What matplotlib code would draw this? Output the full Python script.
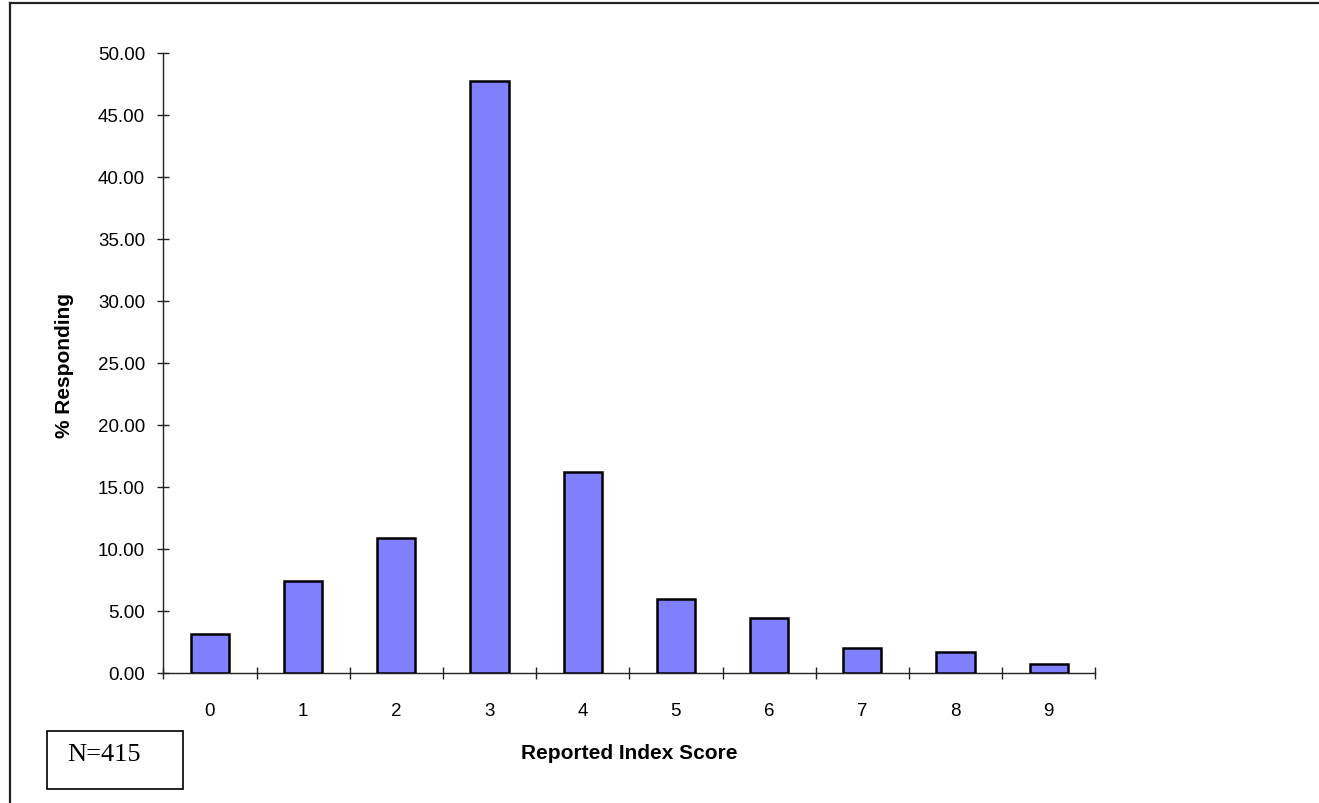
import matplotlib
matplotlib.use("Agg")
import matplotlib.pyplot as plt
from matplotlib.patches import Rectangle
from matplotlib.lines import Line2D
import numpy as np

# Survey results: share of respondents at each reported index score
scores = ["0", "1", "2", "3", "4", "5", "6", "7", "8", "9"]
pct_responding = [3.10, 7.42, 10.84, 47.74, 16.16, 5.97, 4.39, 1.97, 1.65, 0.68]
y_ticks = [0, 5, 10, 15, 20, 25, 30, 35, 40, 45, 50]
sample_note = "N=415"

W, H = 1319, 804
fig = plt.figure(figsize=(W / 100, H / 100), dpi=100)
fig.patch.set_facecolor("white")

ax = fig.add_axes([163.3 / W, 1 - 673.7 / H, (1095.3 - 163.3) / W, (673.7 - 53.7) / H])

x = np.arange(len(scores))
ax.bar(x, pct_responding, width=0.41, color="#8080FF", edgecolor="black", linewidth=1.8, zorder=3)

ax.set_xlim(-0.5, len(scores) - 0.5)
ax.set_ylim(0, 50)

for side in ("top", "right"):
    ax.spines[side].set_visible(False)
for side in ("left", "bottom"):
    ax.spines[side].set_color("#222222")
    ax.spines[side].set_linewidth(1.0)

label_font = dict(family="Liberation Sans", size=13.5)

ax.set_yticks(y_ticks)
ax.set_yticklabels([f"{v:.2f}" for v in y_ticks], **label_font)
ax.tick_params(axis="y", direction="inout", length=9, width=1.0, color="#222222", pad=8.5)

# category labels sit centred under each bar; tick marks sit between categories
ax.set_xticks(x)
ax.set_xticklabels(scores, **label_font)
ax.tick_params(axis="x", which="major", length=0, pad=21)
ax.set_xticks(np.arange(-0.5, len(scores)), minor=True)
ax.tick_params(axis="x", which="minor", direction="inout", length=9, width=1.0, color="#222222")

ax.set_xlabel("Reported Index Score", family="Liberation Sans", fontsize=15, fontweight="bold")
ax.set_ylabel("% Responding", family="Liberation Sans", fontsize=15, fontweight="bold")
axw, axh = 1095.3 - 163.3, 673.7 - 53.7
ax.xaxis.set_label_coords(0.5, -(744 - 673.7) / axh, transform=ax.transAxes)
ax.yaxis.set_label_coords(-(163.3 - 73.5) / axw, (673.7 - 366) / axh, transform=ax.transAxes)

# outer frame along the top and left edges
fig.add_artist(Line2D([9.5 / W, 9.5 / W], [0, 1 - 3.5 / H], transform=fig.transFigure,
                      color="#222222", linewidth=1.6))
fig.add_artist(Line2D([9.5 / W, 1], [1 - 3.5 / H, 1 - 3.5 / H], transform=fig.transFigure,
                      color="#222222", linewidth=1.6))

# sample size box
bx0, bx1, by0, by1 = 46.7, 182.7, 732.3, 790.3
fig.add_artist(Rectangle((bx0 / W, 1 - by1 / H), (bx1 - bx0) / W, (by1 - by0) / H,
                         transform=fig.transFigure, facecolor="white", edgecolor="black", linewidth=1.2))
fig.text(67 / W, 1 - 761.5 / H, sample_note, family="Liberation Serif", fontsize=19,
         ha="left", va="baseline")

fig.savefig("out.png", dpi=100)
